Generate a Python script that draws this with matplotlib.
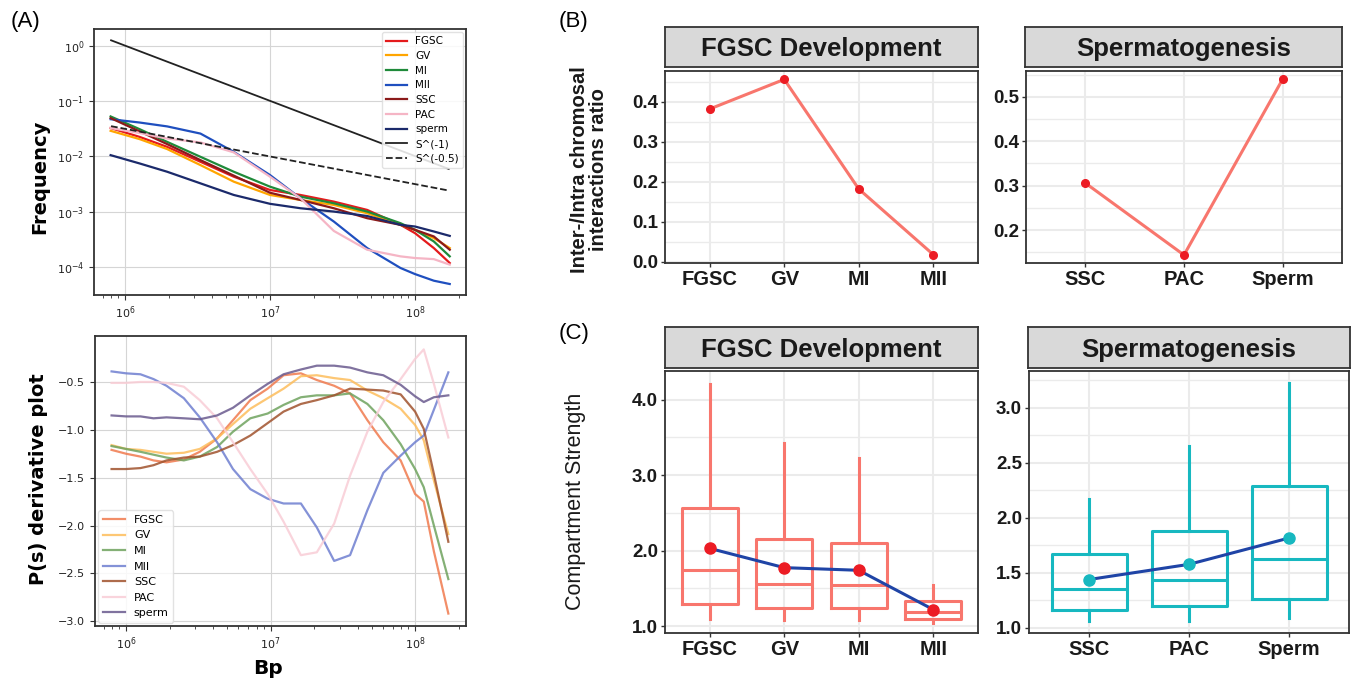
import matplotlib
matplotlib.use("Agg")
import matplotlib.pyplot as plt
import numpy as np
from matplotlib.ticker import MultipleLocator, NullLocator, FixedLocator

W, H = 1354, 681

# ---------------- panel A data ----------------
# top: contact frequency, log10 of Bp and log10 of frequency
log_bp_top = [5.90, 6.10, 6.29, 6.52, 6.75, 7.00, 7.21, 7.44, 7.67, 7.90, 8.00, 8.13, 8.24]
lf_fgsc = [-1.49, -1.65, -1.83, -2.10, -2.37, -2.61, -2.70, -2.82, -2.97, -3.24, -3.39, -3.66, -3.93]
lf_gv = [-1.54, -1.69, -1.87, -2.16, -2.46, -2.70, -2.79, -2.88, -3.03, -3.24, -3.33, -3.48, -3.66]
lf_mi = [-1.28, -1.51, -1.74, -2.01, -2.28, -2.55, -2.73, -2.85, -3.00, -3.21, -3.33, -3.54, -3.81]
lf_mii = [-1.33, -1.39, -1.46, -1.59, -1.92, -2.34, -2.76, -3.18, -3.66, -4.02, -4.13, -4.25, -4.31]
lf_ssc = [-1.31, -1.55, -1.78, -2.07, -2.35, -2.66, -2.79, -2.94, -3.12, -3.24, -3.33, -3.45, -3.69]
lf_pac = [-1.49, -1.58, -1.68, -1.75, -1.93, -2.37, -2.76, -3.35, -3.69, -3.81, -3.84, -3.86, -3.96]
lf_sperm = [-1.98, -2.13, -2.28, -2.49, -2.70, -2.86, -2.94, -3.00, -3.08, -3.24, -3.27, -3.36, -3.44]
ref_bp = [8.0e5, 1.71e8]
ref_s1 = [1.25, 0.0059]
ref_s05 = [0.035, 0.0024]

# bottom: P(s) derivative
log_bp_der = [5.90, 6.00, 6.10, 6.19, 6.28, 6.40, 6.51, 6.63, 6.74, 6.86, 6.98, 7.09,
              7.21, 7.32, 7.44, 7.55, 7.67, 7.78, 7.90, 8.00, 8.06, 8.13, 8.23]
d_fgsc = [-1.21, -1.25, -1.28, -1.32, -1.34, -1.31, -1.23, -1.09, -0.90, -0.69, -0.57, -0.43,
          -0.41, -0.48, -0.54, -0.62, -0.90, -1.13, -1.32, -1.67, -1.75, -2.27, -2.92]
d_gv = [-1.16, -1.20, -1.21, -1.23, -1.25, -1.24, -1.20, -1.09, -0.94, -0.78, -0.67, -0.57,
        -0.44, -0.43, -0.46, -0.48, -0.59, -0.67, -0.78, -0.95, -1.11, -1.53, -2.09]
d_mi = [-1.17, -1.20, -1.23, -1.26, -1.29, -1.32, -1.28, -1.18, -1.02, -0.88, -0.83, -0.74,
        -0.66, -0.64, -0.64, -0.62, -0.73, -0.90, -1.15, -1.41, -1.60, -2.00, -2.56]
d_mii = [-0.39, -0.41, -0.42, -0.47, -0.54, -0.67, -0.87, -1.13, -1.41, -1.62, -1.72, -1.77,
         -1.77, -2.02, -2.37, -2.31, -1.84, -1.45, -1.27, -1.13, -1.06, -0.79, -0.40]
d_ssc = [-1.41, -1.41, -1.40, -1.37, -1.32, -1.29, -1.28, -1.23, -1.16, -1.06, -0.93, -0.81,
         -0.73, -0.69, -0.64, -0.57, -0.58, -0.59, -0.63, -0.81, -0.99, -1.46, -2.17]
d_pac = [-0.51, -0.51, -0.50, -0.50, -0.51, -0.55, -0.69, -0.88, -1.13, -1.41, -1.67, -1.96,
         -2.31, -2.28, -1.98, -1.48, -1.02, -0.71, -0.47, -0.26, -0.16, -0.52, -1.08]
d_sperm = [-0.85, -0.86, -0.86, -0.88, -0.87, -0.88, -0.89, -0.85, -0.77, -0.64, -0.52, -0.42,
           -0.37, -0.33, -0.33, -0.35, -0.40, -0.43, -0.53, -0.65, -0.71, -0.66, -0.64]

stages = ["FGSC", "GV", "MI", "MII", "SSC", "PAC", "sperm"]

# ---------------- panel B data ----------------
fgsc_stages = ["FGSC", "GV", "MI", "MII"]
fgsc_ratio = [0.382, 0.456, 0.182, 0.018]
sperm_stages = ["SSC", "PAC", "Sperm"]
sperm_ratio = [0.306, 0.144, 0.540]

# ---------------- panel C data (box stats + mean) ----------------
fgsc_whislo = [1.09, 1.08, 1.08, 1.045]
fgsc_q1 = [1.30, 1.24, 1.235, 1.10]
fgsc_med = [1.74, 1.56, 1.54, 1.19]
fgsc_q3 = [2.57, 2.16, 2.10, 1.33]
fgsc_whishi = [4.21, 3.42, 3.22, 1.55]
fgsc_mean = [2.03, 1.775, 1.74, 1.22]

sperm_whislo = [1.06, 1.06, 1.09]
sperm_q1 = [1.16, 1.195, 1.26]
sperm_med = [1.35, 1.44, 1.63]
sperm_q3 = [1.67, 1.88, 2.29]
sperm_whishi = [2.17, 2.65, 3.23]
sperm_mean = [1.44, 1.578, 1.817]

# ---------------------------------------------------------------------
fig = plt.figure(figsize=(W / 100, H / 100), dpi=100)


def rect(l, t, r, b):
    return [l / W, 1 - b / H, (r - l) / W, (b - t) / H]


top_colors = ["#e41a1c", "#ffa500", "#1f8a3a", "#1f4fbf", "#8b1a1a", "#f5b5c5", "#1b2a6b"]
der_colors = ["#f07a4e", "#fdbd5c", "#6fa35e", "#6f7fd0", "#a0522d", "#f9cdd6", "#6a5a8e"]


def style_a(ax):
    for s in ax.spines.values():
        s.set_color("#333333")
        s.set_linewidth(1.3)
    ax.grid(True, which="major", color="#d5d5d5", lw=0.8)
    ax.tick_params(which="both", labelsize=8, color="#333333", labelcolor="#222222")
    ax.tick_params(which="major", length=3.5)
    ax.tick_params(which="minor", length=2)


# A top
ax1 = fig.add_axes(rect(94, 29, 466, 295))
bp_top = 10 ** np.array(log_bp_top)
for name, lf, c in zip(stages, [lf_fgsc, lf_gv, lf_mi, lf_mii, lf_ssc, lf_pac, lf_sperm], top_colors):
    ax1.plot(bp_top, 10 ** np.array(lf), color=c, lw=1.6, label=name)
ax1.plot(ref_bp, ref_s1, color="#222222", lw=1.3, label="S^(-1)")
ax1.plot(ref_bp, ref_s05, color="#222222", lw=1.3, ls="--", label="S^(-0.5)")
ax1.set_xscale("log")
ax1.set_yscale("log")
ax1.set_xlim(6.1e5, 2.25e8)
ax1.set_ylim(3.1e-5, 2.0)
ax1.yaxis.set_minor_locator(NullLocator())
style_a(ax1)
ax1.legend(loc="upper right", fontsize=7.5, framealpha=0.85, edgecolor="#dddddd",
           borderaxespad=0.3, handlelength=2.0, labelspacing=0.45)

# A bottom
ax2 = fig.add_axes(rect(95, 336, 466, 626))
bp_der = 10 ** np.array(log_bp_der)
for name, d, c in zip(stages, [d_fgsc, d_gv, d_mi, d_mii, d_ssc, d_pac, d_sperm], der_colors):
    ax2.plot(bp_der, d, color=c, lw=1.6, alpha=0.85, label=name)
ax2.set_xscale("log")
ax2.set_xlim(6.1e5, 2.25e8)
ax2.set_ylim(-3.05, -0.02)
ax2.yaxis.set_major_locator(MultipleLocator(0.5))
style_a(ax2)
ax2.legend(loc="lower left", fontsize=8, framealpha=0.85, edgecolor="#dddddd",
           borderaxespad=0.3, handlelength=2.0, labelspacing=0.5)

fig.text(40 / W, 1 - 177 / H, "Frequency", rotation=90, ha="center", va="center",
         fontsize=14, fontweight="bold")
fig.text(39 / W, 1 - 479 / H, "P(s) derivative plot", rotation=90, ha="center", va="center",
         fontsize=14, fontweight="bold")
fig.text(268 / W, 1 - 668 / H, "Bp", ha="center", va="center", fontsize=14.5, fontweight="bold")

# ---------------- ggplot-like panels ----------------
GG = "Liberation Sans"


def gg_panel(ax_rect, strip_rect, title, labels, ylim, major, minor):
    ax = fig.add_axes(ax_rect)
    ax.set_facecolor("white")
    for s in ax.spines.values():
        s.set_color("#333333")
        s.set_linewidth(1.3)
    ax.set_axisbelow(True)
    n = len(labels)
    ax.set_xlim(0.4, n + 0.6)
    ax.set_ylim(*ylim)
    ax.set_xticks(range(1, n + 1))
    ax.set_xticklabels(labels, fontsize=14.5, fontweight="bold", family=GG, color="#1a1a1a")
    ax.yaxis.set_major_locator(FixedLocator(major))
    ax.yaxis.set_minor_locator(FixedLocator(minor))
    ax.set_yticklabels(["%.1f" % v for v in major], fontsize=13.5, fontweight="bold",
                       family=GG, color="#1a1a1a")
    ax.grid(True, which="major", color="#ebebeb", lw=1.5)
    ax.grid(True, which="minor", axis="y", color="#ebebeb", lw=1.0)
    ax.tick_params(which="major", length=3, width=1, color="#333333", pad=2)
    ax.tick_params(which="minor", length=0)
    sx = fig.add_axes(strip_rect)
    sx.set_facecolor("#d9d9d9")
    sx.set_xticks([])
    sx.set_yticks([])
    for s in sx.spines.values():
        s.set_color("#333333")
        s.set_linewidth(1.3)
    sx.text(0.5, 0.45, title, ha="center", va="center", fontsize=18.5, fontweight="bold",
            family=GG, color="#1a1a1a", transform=sx.transAxes)
    return ax


line_red = "#f8766d"
teal = "#17b8c0"
mean_blue = "#1f44a6"

# B left
bl = gg_panel(rect(665, 71, 978, 263), rect(665, 27, 978, 67), "FGSC Development",
              fgsc_stages, (-0.003, 0.477), [0.0, 0.1, 0.2, 0.3, 0.4],
              [0.05, 0.15, 0.25, 0.35, 0.45])
xb = np.arange(1, len(fgsc_stages) + 1)
bl.plot(xb, fgsc_ratio, color=line_red, lw=2.2, zorder=3)
bl.plot(xb, fgsc_ratio, "o", color="#ec1c24", ms=5.5, zorder=4)

# B right
br = gg_panel(rect(1026, 71, 1342, 263), rect(1025, 27, 1342, 67), "Spermatogenesis",
              sperm_stages, (0.126, 0.558), [0.2, 0.3, 0.4, 0.5], [0.15, 0.25, 0.35, 0.45, 0.55])
xs = np.arange(1, len(sperm_stages) + 1)
br.plot(xs, sperm_ratio, color=line_red, lw=2.2, zorder=3)
br.plot(xs, sperm_ratio, "o", color="#ec1c24", ms=5.5, zorder=4)


def boxes(ax, lo, q1, med, q3, hi, color):
    stats = [dict(whislo=a, q1=b, med=c, q3=d, whishi=e, fliers=[])
             for a, b, c, d, e in zip(lo, q1, med, q3, hi)]
    props = dict(color=color, lw=2.2)
    ax.bxp(stats, positions=range(1, len(stats) + 1), widths=0.75, showcaps=False,
           showfliers=False, boxprops=props, whiskerprops=props, medianprops=props,
           manage_ticks=False)


# C left
cl = gg_panel(rect(665, 371, 978, 633), rect(665, 327, 978, 368), "FGSC Development",
              fgsc_stages, (0.91, 4.378), [1.0, 2.0, 3.0, 4.0], [1.5, 2.5, 3.5])
boxes(cl, fgsc_whislo, fgsc_q1, fgsc_med, fgsc_q3, fgsc_whishi, line_red)
cl.plot(xb, fgsc_mean, color=mean_blue, lw=2.2, zorder=4)
cl.plot(xb, fgsc_mean, "o", color="#ec1c24", ms=8, zorder=5)

# C right
cr = gg_panel(rect(1029, 371, 1349, 633), rect(1028, 327, 1350, 368), "Spermatogenesis",
              sperm_stages, (0.954, 3.335), [1.0, 1.5, 2.0, 2.5, 3.0],
              [1.25, 1.75, 2.25, 2.75, 3.25])
boxes(cr, sperm_whislo, sperm_q1, sperm_med, sperm_q3, sperm_whishi, teal)
cr.plot(xs, sperm_mean, color=mean_blue, lw=2.2, zorder=4)
cr.plot(xs, sperm_mean, "o", color=teal, ms=8, zorder=5)

fig.text(589 / W, 1 - 170 / H, "Inter-/Intra chromosal\ninteractions ratio", rotation=90,
         ha="center", va="center", fontsize=14.5, fontweight="bold", family=GG,
         color="#1a1a1a", linespacing=1.05)
fig.text(576 / W, 1 - 501 / H, "Compartment Strength", rotation=90, ha="center", va="center",
         fontsize=15.5, family=GG, color="#1a1a1a")

# panel letters
for txt, x, y in [("(A)", 26, 22), ("(B)", 574, 22), ("(C)", 574, 333)]:
    fig.text(x / W, 1 - y / H, txt, ha="center", va="center", fontsize=16, family=GG)

fig.savefig("out.png", dpi=100)
